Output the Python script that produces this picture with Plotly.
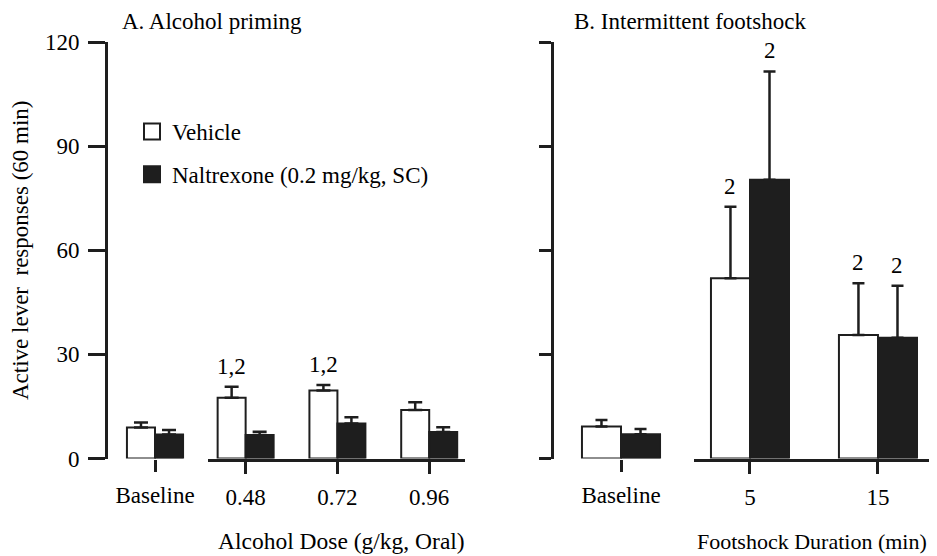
import plotly.graph_objects as go

# ---- data ----
base_label = ["Baseline"]
dose_labels = ["0.48", "0.72", "0.96"]
dur_labels = ["5", "15"]

veh_base_A = [8.9]
veh_base_A_err = [1.5]
nal_base_A = [6.9]
nal_base_A_err = [1.3]

veh_dose = [17.5, 19.6, 14.0]
veh_dose_err = [3.2, 1.6, 2.2]
nal_dose = [6.8, 10.1, 7.6]
nal_dose_err = [0.9, 1.8, 1.4]
veh_dose_marks = ["1,2", "1,2", ""]

veh_base_B = [9.2]
veh_base_B_err = [1.9]
nal_base_B = [7.0]
nal_base_B_err = [1.5]

veh_dur = [51.9, 35.6]
veh_dur_err = [20.6, 14.9]
nal_dur = [80.3, 34.8]
nal_dur_err = [31.2, 15.0]
veh_dur_marks = ["2", "2"]
nal_dur_marks = ["2", "2"]

y_ticks = [0, 30, 60, 90, 120]

# ---- style ----
FONT = "Liberation Serif"
BLACK = "#1e1e1e"
W, H = 937, 556
OFF = 8  # page body margin offset
BARGAP = 0.39
FS = 23


def px(x):
    return (x - OFF) / W


def py(y):
    return 1 - (y - OFF) / H


fig = go.Figure()


def add_pair(xs, veh, veh_err, nal, nal_err, xa, ya, capw):
    fig.add_trace(go.Bar(
        x=xs, y=veh, xaxis=xa, yaxis=ya, name="Vehicle", showlegend=False,
        marker=dict(color="white", line=dict(color=BLACK, width=2)),
        error_y=dict(type="data", array=veh_err, arrayminus=[0] * len(veh),
                     symmetric=False, color=BLACK, thickness=2.5, width=capw)))
    fig.add_trace(go.Bar(
        x=xs, y=nal, xaxis=xa, yaxis=ya, name="Naltrexone", showlegend=False,
        marker=dict(color=BLACK, line=dict(color=BLACK, width=2)),
        error_y=dict(type="data", array=nal_err, arrayminus=[0] * len(nal),
                     symmetric=False, color=BLACK, thickness=2.5, width=capw)))


add_pair(base_label, veh_base_A, veh_base_A_err, nal_base_A, nal_base_A_err, "x", "y", 7)
add_pair(dose_labels, veh_dose, veh_dose_err, nal_dose, nal_dose_err, "x2", "y", 7)
add_pair(base_label, veh_base_B, veh_base_B_err, nal_base_B, nal_base_B_err, "x3", "y2", 6)
add_pair(dur_labels, veh_dur, veh_dur_err, nal_dur, nal_dur_err, "x4", "y2", 6)

# legend proxies
fig.add_trace(go.Scatter(x=[None], y=[None], mode="markers", name="Vehicle",
                         legendgroup="v",
                         marker=dict(symbol="square", size=16, color="white",
                                     line=dict(color=BLACK, width=2))))
fig.add_trace(go.Scatter(x=[None], y=[None], mode="markers",
                         name="Naltrexone (0.2 mg/kg, SC)", legendgroup="n",
                         marker=dict(symbol="square", size=16, color=BLACK,
                                     line=dict(color=BLACK, width=2))))

ydom = [py(458.5), py(42)]
tickfont = dict(family=FONT, size=FS, color="black")

xcommon = dict(type="category", showgrid=False, zeroline=False, ticks="outside",
               ticklen=12, tickwidth=3, tickcolor=BLACK, linecolor=BLACK,
               linewidth=3, tickfont=tickfont, ticklabelstandoff=4,
               fixedrange=True, automargin=False, layer="above traces")

fig.update_layout(
    width=W, height=H,
    margin=dict(l=0, r=0, t=0, b=0, autoexpand=False),
    paper_bgcolor="white", plot_bgcolor="white",
    barmode="group", bargap=BARGAP, bargroupgap=0,
    font=dict(family=FONT, size=FS, color="black"),
    showlegend=True,
    legend=dict(x=px(132), y=py(110), xanchor="left", yanchor="top",
                bgcolor="rgba(0,0,0,0)", font=dict(family=FONT, size=FS),
                traceorder="grouped", tracegroupgap=10),
    xaxis=dict(xcommon, domain=[px(109), px(201)], anchor="y",
               range=[-0.5, 0.5], showline=False),
    xaxis2=dict(xcommon, domain=[px(208), px(465)], anchor="y",
                range=[-0.41, 2.39], showline=True),
    xaxis3=dict(xcommon, domain=[px(557), px(685)], anchor="y2",
                range=[-0.5, 0.5], showline=False),
    xaxis4=dict(xcommon, domain=[px(694), px(933)], anchor="y2",
                range=[-0.4375, 1.43], showline=True),
    yaxis=dict(domain=ydom, range=[0, 120], anchor="free", position=px(106),
               tickvals=y_ticks, ticks="outside", ticklen=17, tickwidth=3,
               tickcolor=BLACK, showline=True, linecolor=BLACK, linewidth=3,
               showgrid=False, zeroline=False, tickfont=tickfont,
               ticklabelstandoff=4, fixedrange=True, automargin=False,
               title=dict(text="Active lever  responses (60 min)",
                          font=dict(family=FONT, size=FS), standoff=17)),
    yaxis2=dict(domain=ydom, range=[0, 120], anchor="free", position=px(552),
                tickvals=y_ticks, showticklabels=False, ticks="outside",
                ticklen=12, tickwidth=3, tickcolor=BLACK, showline=True,
                linecolor=BLACK, linewidth=3, showgrid=False, zeroline=False,
                fixedrange=True, automargin=False),
)

# panel titles
fig.add_annotation(text="A. Alcohol priming", xref="paper", yref="paper",
                   x=px(120), y=py(22), xanchor="left", yanchor="middle",
                   showarrow=False, font=dict(family=FONT, size=FS))
fig.add_annotation(text="B. Intermittent footshock", xref="paper", yref="paper",
                   x=px(572), y=py(22), xanchor="left", yanchor="middle",
                   showarrow=False, font=dict(family=FONT, size=FS))

# x-axis titles
fig.add_annotation(text="Alcohol Dose (g/kg, Oral)", xref="paper", yref="paper",
                   x=px(341.5), y=py(541), xanchor="center", yanchor="middle",
                   showarrow=False, font=dict(family=FONT, size=23.5))
fig.add_annotation(text="Footshock Duration (min)", xref="paper", yref="paper",
                   x=px(812), y=py(541), xanchor="center", yanchor="middle",
                   showarrow=False, font=dict(family=FONT, size=22))

# significance marks above error bars
off = (1 - BARGAP) / 4
for i, m in enumerate(veh_dose_marks):
    if m:
        fig.add_annotation(text=m, xref="x2", yref="y", x=i - off,
                           y=veh_dose[i] + veh_dose_err[i], yanchor="bottom",
                           yshift=6, showarrow=False, font=dict(family=FONT, size=FS))
for i, m in enumerate(veh_dur_marks):
    if m:
        fig.add_annotation(text=m, xref="x4", yref="y2", x=i - off,
                           y=veh_dur[i] + veh_dur_err[i], yanchor="bottom",
                           yshift=6, showarrow=False, font=dict(family=FONT, size=FS))
for i, m in enumerate(nal_dur_marks):
    if m:
        fig.add_annotation(text=m, xref="x4", yref="y2", x=i + off,
                           y=nal_dur[i] + nal_dur_err[i], yanchor="bottom",
                           yshift=6, showarrow=False, font=dict(family=FONT, size=FS))

fig.write_html("out.html")
